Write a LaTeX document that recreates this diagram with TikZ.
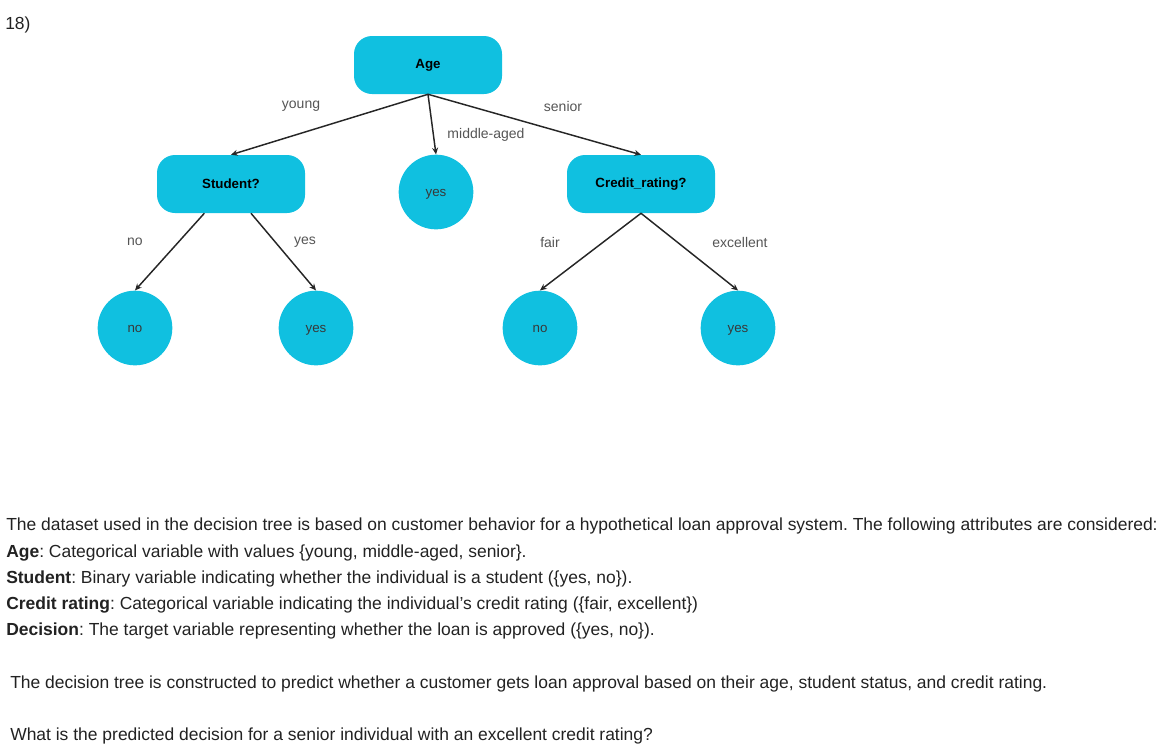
\documentclass[tikz,border=0pt]{standalone}
\usepackage{fontspec}
\setmainfont{Liberation Sans}
\usetikzlibrary{positioning,arrows.meta}
\definecolor{nodecyan}{RGB}{16,192,224}
\definecolor{labelgray}{RGB}{85,85,85}
\definecolor{textdark}{RGB}{34,34,34}
\frenchspacing

\begin{document}
\begin{tikzpicture}[x=0.75pt,y=-0.75pt]
\tikzstyle{every node}+=[inner sep=0pt]
\tikzstyle{test}=[fill=nodecyan,rounded corners=13.5pt,minimum width=111pt,minimum height=43.5pt,font=\bfseries\fontsize{10}{12}\selectfont]
\tikzstyle{leaf}=[fill=nodecyan,circle,minimum size=56pt,text height=1.4ex,text depth=0.2ex,text=textdark!90,font=\fontsize{10}{12}\selectfont]
\tikzstyle{branch}=[text=labelgray,font=\fontsize{10.5}{12}\selectfont]
\tikzstyle{edge}=[black!85,line width=1.1pt,-{Stealth[length=5pt,width=4.5pt]}]
\tikzstyle{line}=[anchor=base west,text=textdark,font=\fontsize{13.1}{15}\selectfont]
\useasboundingbox (0,0) rectangle (1167,751);
\node[line] (num) at (5,29) {18)};
% tree
\node[test] (age) at (428,65) {Age};
\node[test] (student) at (231,184) {Student?};
\node[leaf] (mid) at (436,192) {yes};
\node[test] (credit) at (641,184) {Credit\_rating?};
\node[leaf] (sno) at (135,328) {no};
\node[leaf] (syes) at (316,328) {yes};
\node[leaf] (cno) at (540,328) {no};
\node[leaf] (cyes) at (738,328) {yes};
\draw[edge] (age.south) -- (student.north);
\draw[edge] (age.south) -- (mid.north);
\draw[edge] (age.south) -- (credit.north);
\draw[edge] ([xshift=-20pt]student.south) -- (sno.north);
\draw[edge] ([xshift=15pt]student.south) -- (syes.north);
\draw[edge] (credit.south) -- (cno.north);
\draw[edge] (credit.south) -- (cyes.north);
\node[branch] (lyoung) at (301,106) {young};
\node[branch] (lmid) at (486,135) {middle-aged};
\node[branch] (lsenior) at (563,106) {senior};
\node[branch] (lno) at (135,242) {no};
\node[branch] (lyes) at (305,242) {yes};
\node[branch] (lfair) at (550,242) {fair};
\node[branch] (lexc) at (740,242) {excellent};
% text below
\node[line] (t1) at (6,530) {The dataset used in the decision tree is based on customer behavior for a hypothetical loan approval system. The following attributes are considered:};
\node[line] (t2) at (6,557) {\textbf{Age}: Categorical variable with values \{young, middle-aged, senior\}.};
\node[line] (t3) at (6,583) {\textbf{Student}: Binary variable indicating whether the individual is a student (\{yes, no\}).};
\node[line] (t4) at (6,609) {\textbf{Credit rating}: Categorical variable indicating the individual’s credit rating (\{fair, excellent\})};
\node[line] (t5) at (6,635) {\textbf{Decision}: The target variable representing whether the loan is approved (\{yes, no\}).};
\node[line] (t6) at (10,688) {The decision tree is constructed to predict whether a customer gets loan approval based on their age, student status, and credit rating.};
\node[line] (t7) at (10,740) {What is the predicted decision for a senior individual with an excellent credit rating?};
\end{tikzpicture}
\end{document}
